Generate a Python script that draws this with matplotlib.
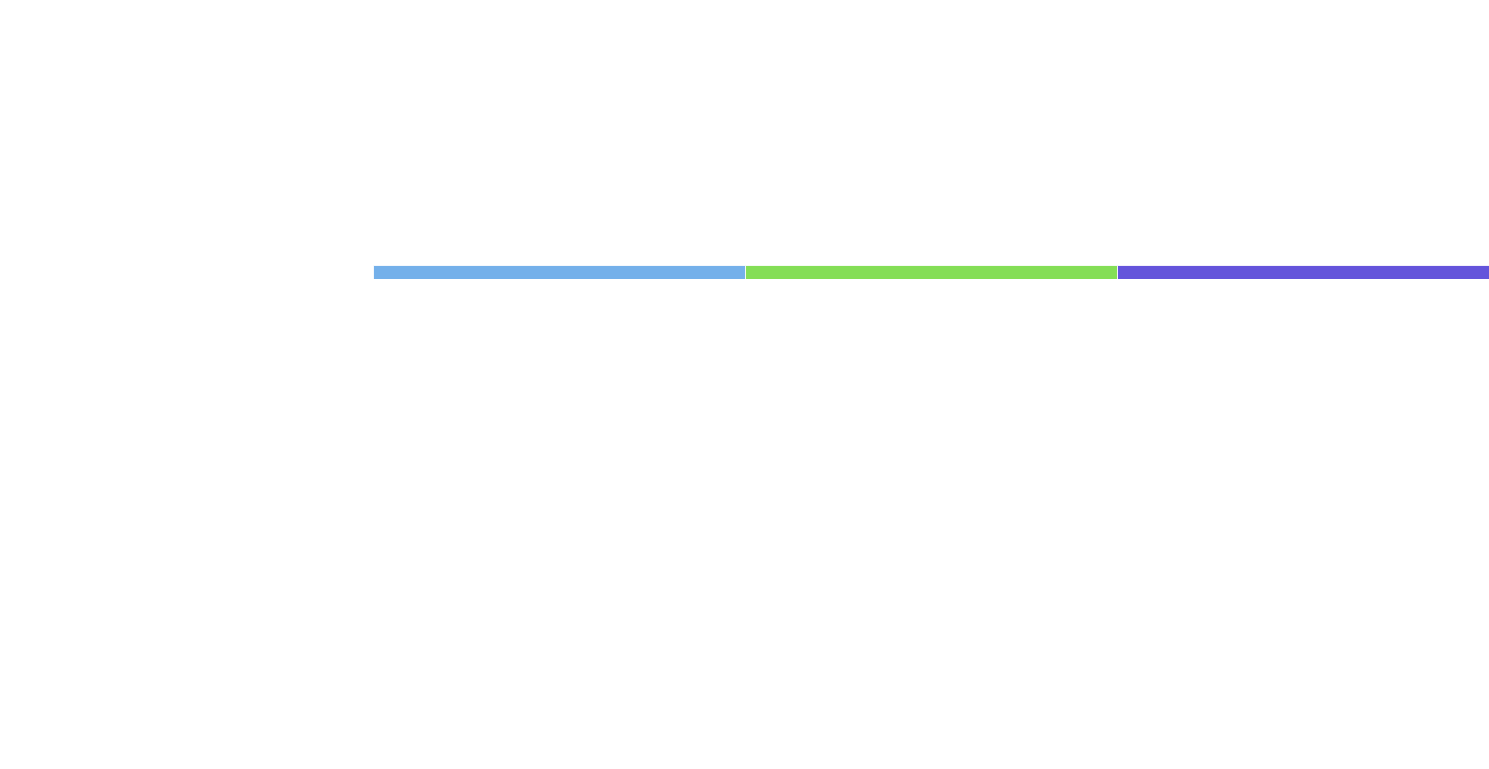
import matplotlib
matplotlib.use("Agg")
import matplotlib.pyplot as plt

# One stacked horizontal bar, three equal shares
categories = ["A", "B", "C"]
values = [1, 1, 1]
colors = ["#74b0ea", "#84de56", "#6454db"]

W, H = 1489, 769
fig = plt.figure(figsize=(W / 100, H / 100), dpi=100)
# axes placed over the bar strip only
ax = fig.add_axes([372.5 / W, (H - 279) / H, (W - 372.5) / W, 14 / H])

left = 0
for cat, v, c in zip(categories, values, colors):
    ax.barh(0, v, left=left, height=1, color=c, edgecolor="white",
            linewidth=0.6, label=cat)
    left += v

ax.set_xlim(0, sum(values))
ax.set_ylim(-0.5, 0.5)
ax.axis("off")

fig.savefig("out.png", dpi=100, facecolor="white")
